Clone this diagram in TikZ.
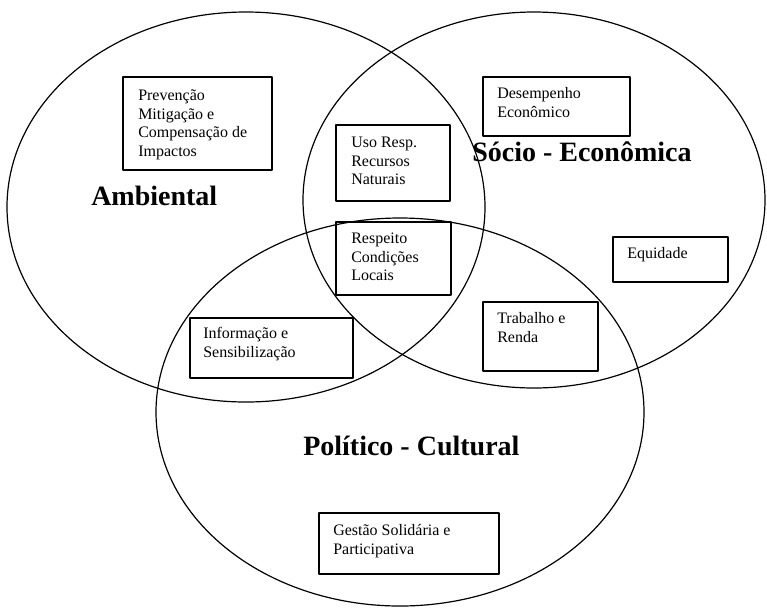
\documentclass[tikz,border=0pt]{standalone}
\usepackage{fontspec}
\setmainfont{Liberation Serif}
\tikzset{
  area/.style={draw,line width=0.9pt},
  box/.style={draw,line width=0.9pt},
  txt/.style={anchor=north west,inner sep=0pt,align=left,font=\fontsize{12}{14}\selectfont},
  title/.style={anchor=base west,inner sep=0pt,font=\fontsize{21}{25}\selectfont\bfseries}
}
\begin{document}
\begin{tikzpicture}[x=0.75pt,y=-0.75pt,line join=round]
\useasboundingbox (0,0) rectangle (767,608);
% dimensoes
\draw[area] (246,207) ellipse [x radius=239, y radius=195];
\draw[area] (534,200) ellipse [x radius=231, y radius=188];
\draw[area] (400,412) ellipse [x radius=244, y radius=194];
\node[title] (amb) at (91,205) {Ambiental};
\node[title] (soc) at (472,161) {Sócio - Econômica};
\node[title] (pol) at (303,455) {Político - Cultural};
% caixas
\draw[box] (123,77) rectangle (272,170);
\node[txt] (prev) at (138,87) {\strut Prevenção\\Mitigação e\\Compensação de\\Impactos};
\draw[box] (336,125) rectangle (450,201);
\node[txt] (uso) at (351,134) {\strut Uso Resp.\\Recursos\\Naturais};
\draw[box] (336,222) rectangle (451,295);
\node[txt] (resp) at (351,230) {\strut Respeito\\Condições\\Locais};
\draw[box] (483,77) rectangle (630,136);
\node[txt] (desemp) at (497,85) {\strut Desempenho\\Econômico};
\draw[box] (190,318) rectangle (353,378);
\node[txt] (info) at (203,325) {\strut Informação e\\Sensibilização};
\draw[box] (613,237) rectangle (728,282);
\node[txt] (equid) at (627,245) {\strut Equidade};
\draw[box] (483,302) rectangle (598,371);
\node[txt] (trab) at (497,310) {\strut Trabalho e\\Renda};
\draw[box] (319,513) rectangle (499,574);
\node[txt] (gest) at (333,522) {\strut Gestão Solidária e\\Participativa};
\end{tikzpicture}
\end{document}
